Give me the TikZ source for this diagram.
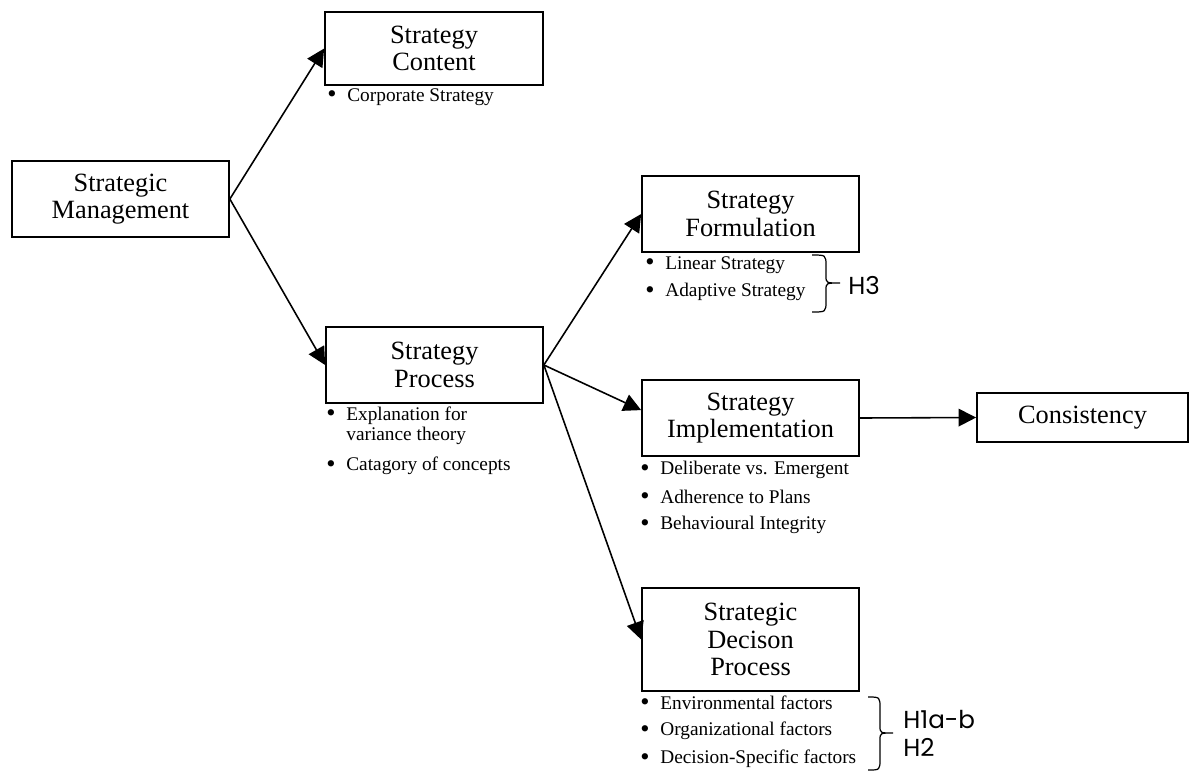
\documentclass[tikz,border=0pt]{standalone}
\usepackage{fontspec}
\setmainfont{Liberation Serif}
\newfontfamily\hypfont{Poppins}
\usetikzlibrary{arrows.meta}
\newcommand{\bdot}{\makebox[0.4cm][l]{\raisebox{-0.8pt}{\fontsize{15}{15}\selectfont\textbullet}}}

\begin{document}
\begin{tikzpicture}[
  x=0.02cm, y=-0.02cm,
  box/.style={draw, line width=1pt, align=center, inner sep=2pt, fill=white,
    font=\fontsize{15}{15.6}\selectfont, minimum width=4.34cm, minimum height=1.52cm},
  bitem/.style={anchor=west, inner sep=0pt, align=left, font=\fontsize{11}{11.6}\selectfont},
  arr/.style={-{Triangle[length=10pt, width=10pt]}, line width=0.9pt},
  brc/.style={line width=0.7pt},
  hyp/.style={anchor=west, inner sep=0pt, align=left, font=\hypfont\fontsize{14}{16}\selectfont}
]
\useasboundingbox (0,0) rectangle (1190,772);
\node[box] (box-mgmt) at (120.5,199) {Strategic\\Management};
\node[box, minimum width=4.36cm, minimum height=1.46cm] (box-content) at (434,48.5) {Strategy\\Content};
\node[box] (box-process) at (434.5,365) {Strategy\\Process};
\node[box] (box-form) at (750.5,214) {Strategy\\Formulation};
\node[box] (box-impl) at (750.5,418) {Strategy\\Implementation};
\node[box, minimum width=4.22cm, minimum height=0.98cm] (box-cons) at (1082.5,417.5) {Consistency};
\node[box, minimum height=2.06cm] (box-dec) at (750.5,639.5) {Strategic\\Decison\\Process};
% bullet lists
\node[bitem] (it-content-1) at (327,97) {\bdot Corporate Strategy};
\node[bitem] (it-process-1) at (326,426) {\bdot Explanation for\\\hspace*{0.4cm}variance theory};
\node[bitem] (it-process-2) at (326,466) {\bdot Catagory of concepts};
\node[bitem] (it-form-1) at (645,265) {\bdot Linear Strategy};
\node[bitem] (it-form-2) at (645,292) {\bdot Adaptive Strategy};
\node[bitem] (it-impl-1) at (640,470) {\bdot Deliberate vs. Emergent};
\node[bitem] (it-impl-2) at (640,497) {\bdot Adherence to Plans};
\node[bitem] (it-impl-3) at (640,525) {\bdot Behavioural Integrity};
\node[bitem] (it-dec-1) at (640,703) {\bdot Environmental factors};
\node[bitem] (it-dec-2) at (640,731) {\bdot Organizational factors};
\node[bitem] (it-dec-3) at (640,759) {\bdot Decision-Specific factors};
% hypotheses
\draw[brc] (812,255) .. controls (826,255) .. (826,266) -- (826,276) .. controls (826,283) .. (840,283)
  .. controls (826,283) .. (826,290) -- (826,301) .. controls (826,312) .. (812,312);
\node[hyp] (hyp-form) at (848,285) {H3};
\draw[brc] (868,697) .. controls (880,697) .. (880,708) -- (880,726) .. controls (880,733) .. (893,733)
  .. controls (880,733) .. (880,740) -- (880,759) .. controls (880,770) .. (868,770);
\node[hyp] (hyp-dec) at (903,733) {H1a-b\\H2};
% arrows
\draw[arr] (box-mgmt.east) -- (box-content.west);
\draw[arr] (box-mgmt.east) -- (box-process.west);
\draw[arr] (box-process.east) -- (box-form.west);
\draw[arr] (box-process.east) -- ([yshift=4.5pt]box-impl.west);
\draw[arr] (box-process.east) -- (box-dec.west);
\draw[arr] (box-impl.east) -- (box-cons.west);
\end{tikzpicture}
\end{document}
